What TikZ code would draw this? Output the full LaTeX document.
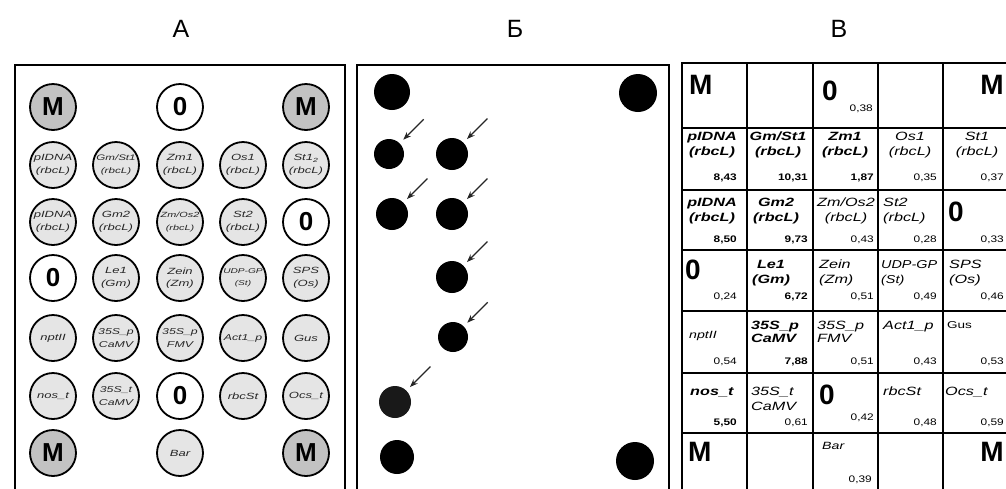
\documentclass[tikz,border=0pt]{standalone}
\usepackage{fontspec}
\setmainfont{Liberation Sans}
\newfontfamily\widefont[FakeStretch=1.25]{Liberation Sans}
\newfontfamily\genefont[FakeStretch=1.35]{Liberation Sans}
\newfontfamily\wellfont[FakeStretch=1.45]{Liberation Sans}
\usetikzlibrary{calc,arrows.meta}
\tikzset{
  plate/.style={draw, line width=2.6pt},
  well/.style={circle, draw, line width=1.8pt, minimum size=46pt, inner sep=0pt, fill=gray!20, text=black!85, align=center, font=\wellfont\itshape\fontsize{9}{12.5}\selectfont},
  mwell/.style={well, fill=gray!48, text=black, font=\bfseries\fontsize{26}{26}\selectfont},
  zwell/.style={well, fill=white, text=black, font=\bfseries\fontsize{26}{26}\selectfont},
  spot/.style={circle, fill=black, inner sep=0pt, minimum size=#1},
  pointer/.style={-{Stealth[length=8pt,width=6pt]}, line width=1.1pt, black!85, shorten >=5pt},
  grid line/.style={line width=2.2pt},
  gene/.style={inner sep=0pt, font=\genefont\itshape\fontsize{12}{15}\selectfont},
  bgene/.style={gene, font=\genefont\bfseries\itshape\fontsize{12}{15}\selectfont},
  val/.style={inner sep=0pt, anchor=east, font=\widefont\fontsize{9.5}{10}\selectfont},
  bval/.style={val, font=\widefont\bfseries\fontsize{9.5}{10}\selectfont},
  big/.style={inner sep=0pt, font=\bfseries\fontsize{28}{28}\selectfont},
  heading/.style={font=\fontsize{25}{25}\selectfont}
}
\begin{document}
\begin{tikzpicture}[x=1pt, y=-1pt]
\useasboundingbox (0,0) rectangle (1006,488);
\clip (0,0) rectangle (1006,488);
% titles
\node[heading] (tA) at (181,29) {А};
\node[heading] (tB) at (515,29) {Б};
\node[heading] (tC) at (839,29) {В};
% panel A: the chip
\draw[plate] (15,500) -- (15,65) -- (345,65) -- (345,500);
\node[mwell] (w11) at (53,107) {M};
\node[zwell] (w13) at (180,107) {0};
\node[mwell] (w15) at (306,107) {M};
\node[well] (w21) at (53,165) {pIDNA\\(rbcL)};
\node[well, font=\wellfont\itshape\fontsize{8}{12.5}\selectfont] (w22) at (116,165) {Gm/St1\\(rbcL)};
\node[well] (w23) at (180,165) {Zm1\\(rbcL)};
\node[well] (w24) at (243,165) {Os1\\(rbcL)};
\node[well] (w25) at (306,165) {St1\textsubscript{2}\\(rbcL)};
\node[well] (w31) at (53,222) {pIDNA\\(rbcL)};
\node[well] (w32) at (116,222) {Gm2\\(rbcL)};
\node[well, font=\wellfont\itshape\fontsize{7.5}{12.5}\selectfont] (w33) at (180,222) {Zm/Os2\\(rbcL)};
\node[well] (w34) at (243,222) {St2\\(rbcL)};
\node[zwell] (w35) at (306,222) {0};
\node[zwell] (w41) at (53,278) {0};
\node[well] (w42) at (116,278) {Le1\\(Gm)};
\node[well] (w43) at (180,278) {Zein\\(Zm)};
\node[well, font=\wellfont\itshape\fontsize{7}{12.5}\selectfont] (w44) at (243,278) {UDP-GP\\(St)};
\node[well] (w45) at (306,278) {SPS\\(Os)};
\node[well] (w51) at (53,338) {nptII};
\node[well, font=\wellfont\itshape\fontsize{8.5}{12.5}\selectfont] (w52) at (116,338) {35S\_p\\CaMV};
\node[well, font=\wellfont\itshape\fontsize{8.5}{12.5}\selectfont] (w53) at (180,338) {35S\_p\\FMV};
\node[well, font=\wellfont\itshape\fontsize{8.5}{12.5}\selectfont] (w54) at (243,338) {Act1\_p};
\node[well] (w55) at (306,338) {Gus};
\node[well] (w61) at (53,396) {nos\_t};
\node[well, font=\wellfont\itshape\fontsize{8.5}{12.5}\selectfont] (w62) at (116,396) {35S\_t\\CaMV};
\node[zwell] (w63) at (180,396) {0};
\node[well] (w64) at (243,396) {rbcSt};
\node[well] (w65) at (306,396) {Ocs\_t};
\node[mwell] (w71) at (53,453) {M};
\node[well] (w73) at (180,453) {Bar};
\node[mwell] (w75) at (306,453) {M};
% panel B: hybridisation spots
\draw[plate, line width=2pt] (357,500) -- (357,65) -- (669,65) -- (669,500);
\node[spot=36pt] (d11) at (392,92) {};
\node[spot=38pt] (d15) at (638,93) {};
\node[spot=30pt] (d21) at (389,154) {};
\node[spot=32pt] (d22) at (452,154) {};
\node[spot=32pt] (d31) at (392,214) {};
\node[spot=32pt] (d32) at (452,214) {};
\node[spot=32pt] (d42) at (452,277) {};
\node[spot=30pt] (d52) at (453,337) {};
\node[spot=32pt, fill=black!90] (d61) at (395,402) {};
\node[spot=34pt] (d71) at (397,457) {};
\node[spot=38pt] (d75) at (635,461) {};
\draw[pointer] ($(d21.45)+(24,-24)$) -- (d21.45);
\draw[pointer] ($(d22.45)+(24,-24)$) -- (d22.45);
\draw[pointer] ($(d31.45)+(24,-24)$) -- (d31.45);
\draw[pointer] ($(d32.45)+(24,-24)$) -- (d32.45);
\draw[pointer] ($(d42.45)+(24,-24)$) -- (d42.45);
\draw[pointer] ($(d52.45)+(24,-24)$) -- (d52.45);
\draw[pointer] ($(d61.45)+(24,-24)$) -- (d61.45);
% panel C: table of signals
\draw[grid line] (682,500) -- (682,63) -- (1010,63);
\draw[grid line] (747,63) -- (747,500);
\draw[grid line] (813,63) -- (813,500);
\draw[grid line] (878,63) -- (878,500);
\draw[grid line] (943,63) -- (943,500);
\draw[grid line] (682,128) -- (1010,128);
\draw[grid line] (682,190) -- (1010,190);
\draw[grid line] (682,250) -- (1010,250);
\draw[grid line] (682,311) -- (1010,311);
\draw[grid line] (682,373) -- (1010,373);
\draw[grid line] (682,433) -- (1010,433);
% row 1
\node[big, anchor=north west] (b11) at (689,75) {M};
\node[big, anchor=north west] (b13) at (822,81) {0};
\node[val] (v13) at (873,109) {0,38};
\node[big, anchor=north east] (b15) at (1004,75) {M};
% row 2
\node[bgene, anchor=north, align=center] (g21) at (712,132) {pIDNA\\(rbcL)};
\node[bgene, anchor=north, align=center] (g22) at (778,132) {Gm/St1\\(rbcL)};
\node[bgene, anchor=north, align=center] (g23) at (845,132) {Zm1\\(rbcL)};
\node[gene, anchor=north, align=center] (g24) at (910,132) {Os1\\(rbcL)};
\node[gene, anchor=north, align=center] (g25) at (977,132) {St1\\(rbcL)};
\node[bval] (v21) at (737,178) {8,43};
\node[bval] (v22) at (808,178) {10,31};
\node[bval] (v23) at (874,178) {1,87};
\node[val] (v24) at (937,178) {0,35};
\node[val] (v25) at (1004,178) {0,37};
% row 3
\node[bgene, anchor=north, align=center] (g31) at (712,198) {pIDNA\\(rbcL)};
\node[bgene, anchor=north, align=center] (g32) at (776,198) {Gm2\\(rbcL)};
\node[gene, anchor=north, align=center] (g33) at (846,198) {Zm/Os2\\(rbcL)};
\node[gene, anchor=north west, align=left] (g34) at (883,198) {St2\\(rbcL)};
\node[big, anchor=north west] (b35) at (948,202) {0};
\node[bval] (v31) at (737,240) {8,50};
\node[bval] (v32) at (808,240) {9,73};
\node[val] (v33) at (874,240) {0,43};
\node[val] (v34) at (937,240) {0,28};
\node[val] (v35) at (1004,240) {0,33};
% row 4
\node[big, anchor=north west] (b41) at (685,260) {0};
\node[bgene, anchor=north, align=center] (g42) at (771,260) {Le1\\(Gm)};
\node[gene, anchor=north west, align=left] (g43) at (819,260) {Zein\\(Zm)};
\node[gene, anchor=north west, align=left, font=\widefont\itshape\fontsize{11.5}{15}\selectfont] (g44) at (881,260) {UDP-GP\\(St)};
\node[gene, anchor=north west, align=left] (g45) at (949,260) {SPS\\(Os)};
\node[val] (v41) at (737,297) {0,24};
\node[bval] (v42) at (808,297) {6,72};
\node[val] (v43) at (874,297) {0,51};
\node[val] (v44) at (937,297) {0,49};
\node[val] (v45) at (1004,297) {0,46};
% row 5
\node[gene, anchor=north west, font=\genefont\itshape\fontsize{10.5}{13}\selectfont] (g51) at (689,331) {nptII};
\node[bgene, anchor=north west, align=left] (g52) at (751,321) {35S\_p\\[-2pt]CaMV};
\node[gene, anchor=north west, align=left] (g53) at (817,321) {35S\_p\\[-2pt]FMV};
\node[gene, anchor=north west] (g54) at (883,321) {Act1\_p};
\node[gene, anchor=north west, font=\genefont\fontsize{10}{13}\selectfont] (g55) at (947,321) {Gus};
\node[val] (v51) at (737,362) {0,54};
\node[bval] (v52) at (808,362) {7,88};
\node[val] (v53) at (874,362) {0,51};
\node[val] (v54) at (937,362) {0,43};
\node[val] (v55) at (1004,362) {0,53};
% row 6
\node[bgene, anchor=north west] (g61) at (690,387) {nos\_t};
\node[gene, anchor=north west, align=left] (g62) at (751,387) {35S\_t\\CaMV};
\node[big, anchor=north west] (b63) at (819,385) {0};
\node[gene, anchor=north west] (g64) at (883,387) {rbcSt};
\node[gene, anchor=north west] (g65) at (945,387) {Ocs\_t};
\node[bval] (v61) at (737,423) {5,50};
\node[val] (v62) at (808,423) {0,61};
\node[val] (v63) at (874,418) {0,42};
\node[val] (v64) at (937,423) {0,48};
\node[val] (v65) at (1004,423) {0,59};
% row 7
\node[big, anchor=north west] (b71) at (688,442) {M};
\node[gene, anchor=north west, font=\genefont\itshape\fontsize{10.5}{13}\selectfont] (g73) at (822,442) {Bar};
\node[val] (v73) at (872,480) {0,39};
\node[big, anchor=north east] (b75) at (1004,442) {M};
\end{tikzpicture}
\end{document}
